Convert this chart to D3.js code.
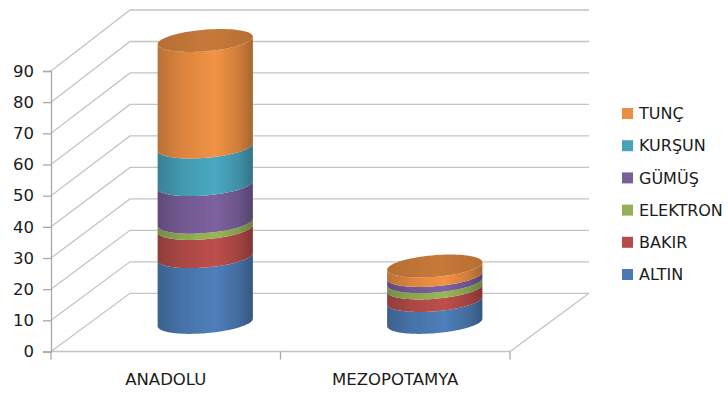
<!DOCTYPE html>
<html>
<head>
<meta charset="utf-8">
<script src="https://cdn.jsdelivr.net/npm/d3@7"></script>
<style>
  html, body { margin: 0; padding: 0; background: #fff; }
  svg { display: block; }
  text { font-family: "DejaVu Sans", sans-serif; fill: #1b1b1b; }
</style>
</head>
<body>
<svg id="chart" width="728" height="394"></svg>
<script>
// Categories and stacked series (bottom to top)
const categories = ["ANADOLU", "MEZOPOTAMYA"];
const seriesNames = ["ALTIN", "BAKIR", "ELEKTRON", "GÜMÜŞ", "KURŞUN", "TUNÇ"];
const altin    = [21, 7];
const bakir    = [9, 4];
const elektron = [2, 2];
const gumus    = [12, 2];
const kursun   = [12, 0];
const tunc     = [34, 3];
const seriesColors = ["#4F81BD", "#C0504D", "#9BBB59", "#8064A2", "#4BACC6", "#F79646"];
const yTicks = [0, 10, 20, 30, 40, 50, 60, 70, 80, 90];

const seriesValues = [altin, bakir, elektron, gumus, kursun, tunc];
const rows = categories.map((c, i) => {
  const r = { cat: c };
  seriesNames.forEach((s, k) => { r[s] = seriesValues[k][i]; });
  return r;
});
const stacked = d3.stack().keys(seriesNames)(rows);

const svg = d3.select("#chart");

// Oblique 3D frame: front plane and back wall plane
const depthX = 79;
const xFront = d3.scaleBand().domain(categories).range([51, 510]).paddingInner(0).paddingOuter(0);
const yFront = d3.scaleLinear().domain([0, 90]).range([351.5, 71]);
const yBack  = d3.scaleLinear().domain([0, 90]).range([293.3, 10]);
const yMid = v => (yFront(v) + yBack(v)) / 2;
const x0 = xFront.range()[0], x1 = xFront.range()[1];

const gridColor = "#c4c4c4";
const axisColor = "#a8a8a8";

// Wall gridlines: diagonal up the side wall, then along the back wall
const grid = svg.append("g");
yTicks.forEach(v => {
  grid.append("path")
    .attr("d", `M${x0},${yFront(v)}L${x0 + depthX},${yBack(v)}L${x1 + depthX},${yBack(v)}`)
    .attr("fill", "none").attr("stroke", gridColor).attr("stroke-width", 1.3);
});

// Floor edges
grid.append("path")
  .attr("d", `M${x0},${yFront(0)}L${x1},${yFront(0)}L${x1 + depthX},${yBack(0)}`)
  .attr("fill", "none").attr("stroke", gridColor).attr("stroke-width", 1.3);

// Value axis on the front-left edge
const yAxis = svg.append("g")
  .attr("transform", `translate(${x0},0)`)
  .call(d3.axisLeft(yFront).tickValues(yTicks).tickSize(8).tickPadding(9).tickFormat(d3.format("d")));
yAxis.select(".domain").attr("stroke", axisColor).attr("stroke-width", 1.3);
yAxis.selectAll(".tick line").attr("stroke", axisColor).attr("stroke-width", 1.3);
yAxis.selectAll(".tick text").style("font-size", "16.5px").attr("fill", "#1b1b1b");

// Category axis along the front floor edge
const xAxis = svg.append("g")
  .attr("transform", `translate(0,${yFront(0)})`)
  .call(d3.axisBottom(xFront).tickSize(0).tickPadding(22));
xAxis.select(".domain").remove();
xAxis.selectAll(".tick text").style("font-size", "16.5px").attr("fill", "#1b1b1b");
const boundaries = [x0].concat(categories.map(c => xFront(c) + xFront.bandwidth()));
svg.append("g").selectAll("line").data(boundaries).join("line")
  .attr("x1", d => d).attr("x2", d => d)
  .attr("y1", yFront(0)).attr("y2", yFront(0) + 8)
  .attr("stroke", axisColor).attr("stroke-width", 1.3);

// Cylinder geometry: circular base sheared along the depth direction
const R = 45;
const hx = 15.6, hy = -11.5;
const tEdge = Math.atan2(hx, R);
function ellPt(cx, cy, t) {
  return [cx + R * Math.cos(t) + hx * Math.sin(t), cy + hy * Math.sin(t)];
}
function sidePath(cx, yb, yt) {
  const n = 60, pts = [];
  for (let i = 0; i <= n; i++) pts.push(ellPt(cx, yb, Math.PI + tEdge + Math.PI * i / n));
  for (let i = n; i >= 0; i--) pts.push(ellPt(cx, yt, Math.PI + tEdge + Math.PI * i / n));
  return "M" + pts.map(p => p.join(",")).join("L") + "Z";
}
function topPath(cx, cy) {
  const n = 80, pts = [];
  for (let i = 0; i < n; i++) pts.push(ellPt(cx, cy, 2 * Math.PI * i / n));
  return "M" + pts.map(p => p.join(",")).join("L") + "Z";
}

// Side shading gradients
const defs = svg.append("defs");
seriesNames.forEach((s, k) => {
  const base = d3.color(seriesColors[k]);
  const g = defs.append("linearGradient").attr("id", "side" + k)
    .attr("x1", 0).attr("x2", 1).attr("y1", 0).attr("y2", 0);
  g.append("stop").attr("offset", "0%").attr("stop-color", base.darker(0.8));
  g.append("stop").attr("offset", "25%").attr("stop-color", base.darker(0.35));
  g.append("stop").attr("offset", "60%").attr("stop-color", base.darker(0.05));
  g.append("stop").attr("offset", "85%").attr("stop-color", base.darker(0.5));
  g.append("stop").attr("offset", "100%").attr("stop-color", base.darker(1.1));
  const t = defs.append("linearGradient").attr("id", "top" + k)
    .attr("x1", 0).attr("x2", 1).attr("y1", 0).attr("y2", 0);
  t.append("stop").attr("offset", "0%").attr("stop-color", base.darker(0.85));
  t.append("stop").attr("offset", "55%").attr("stop-color", base.darker(0.6));
  t.append("stop").attr("offset", "100%").attr("stop-color", base.darker(0.85));
});

// Stacked cylinders
const bars = svg.append("g");
categories.forEach((c, i) => {
  const cx = xFront(c) + xFront.bandwidth() / 2 + depthX / 2;
  let topK = -1;
  stacked.forEach((layer, k) => {
    const [v0, v1] = layer[i];
    if (v1 - v0 <= 0) return;
    bars.append("path")
      .attr("d", sidePath(cx, yMid(v0), yMid(v1)))
      .attr("fill", `url(#side${k})`);
    topK = k;
  });
  if (topK >= 0) {
    const vt = stacked[topK][i][1];
    bars.append("path")
      .attr("d", topPath(cx, yMid(vt)))
      .attr("fill", `url(#top${topK})`);
  }
});

// Legend, top series first
const legend = svg.append("g");
const legendItems = seriesNames.map((s, k) => ({ name: s, color: seriesColors[k] })).reverse();
const ly = d3.scalePoint().domain(legendItems.map(d => d.name)).range([113.5, 274.5]);
const li = legend.selectAll("g").data(legendItems).join("g")
  .attr("transform", d => `translate(622,${ly(d.name)})`);
li.append("rect").attr("x", 0).attr("y", -5.5).attr("width", 11).attr("height", 11)
  .attr("fill", d => d3.color(d.color).darker(0.15));
li.append("text").attr("x", 17).attr("y", 0).attr("dy", "0.36em")
  .style("font-size", "16px").text(d => d.name);
</script>
</body>
</html>
